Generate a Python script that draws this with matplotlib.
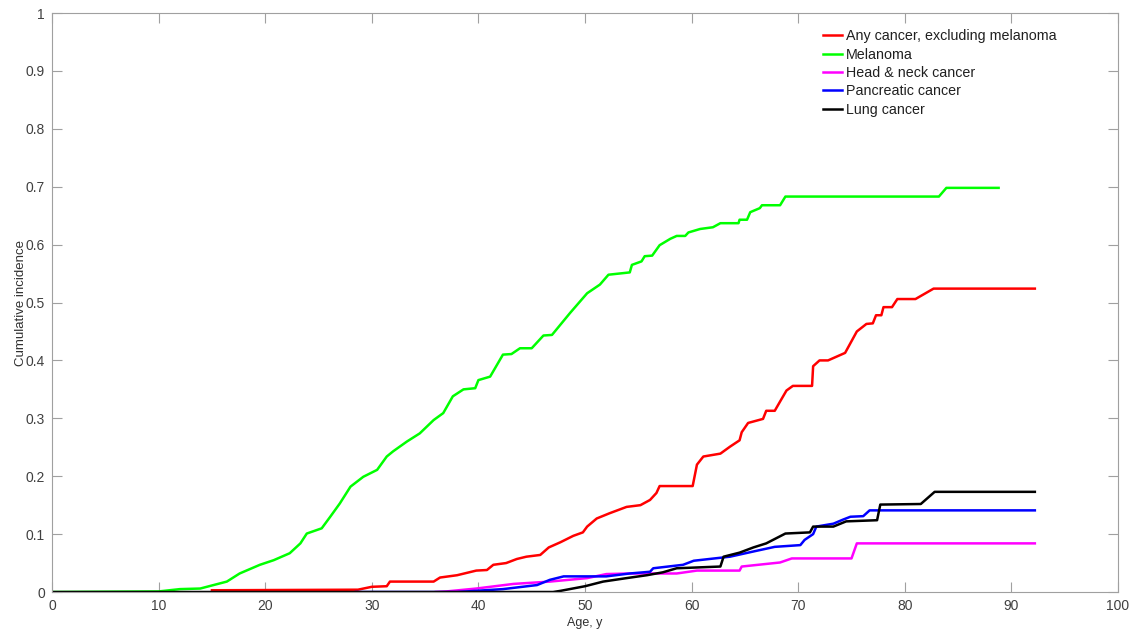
import matplotlib
matplotlib.use("Agg")
import matplotlib.pyplot as plt

plt.rcParams['font.family'] = ['Liberation Sans', 'DejaVu Sans']

labels = ["Any cancer, excluding melanoma", "Melanoma", "Head & neck cancer",
          "Pancreatic cancer", "Lung cancer"]
colors = ["#ff0000", "#00ff00", "#ff00ff", "#0000ff", "#000000"]

any_x = [15.0, 28.7, 30.0, 31.4, 31.7, 35.8, 36.4, 38.0, 39.8, 40.8, 41.4, 42.6, 43.6, 44.5,
         45.8, 46.6, 47.7, 48.9, 49.8, 50.2, 51.1, 52.3, 53.9, 55.2, 56.1, 56.7, 57.0, 60.1,
         60.5, 61.1, 62.7, 63.6, 64.5, 64.7, 65.3, 66.7, 67.0, 67.8, 68.3, 68.9, 69.5, 71.3,
         71.4, 72.0, 72.8, 74.4, 75.5, 76.4, 77.0, 77.3, 77.8, 78.0, 78.8, 79.3, 81.0, 82.7, 92.2]
any_y = [0.003, 0.004, 0.009, 0.010, 0.018, 0.018, 0.025, 0.029, 0.037, 0.038, 0.047, 0.050,
         0.057, 0.061, 0.064, 0.077, 0.086, 0.097, 0.103, 0.113, 0.127, 0.136, 0.147, 0.150,
         0.159, 0.171, 0.183, 0.183, 0.220, 0.234, 0.239, 0.251, 0.262, 0.276, 0.292, 0.299,
         0.313, 0.313, 0.329, 0.348, 0.356, 0.356, 0.390, 0.400, 0.400, 0.413, 0.450, 0.463,
         0.464, 0.478, 0.478, 0.492, 0.492, 0.506, 0.506, 0.524, 0.524]

mel_x = [0.0, 10.0, 12.0, 13.9, 16.4, 17.6, 19.5, 20.8, 22.3, 23.3, 23.9, 25.3, 26.1, 27.0,
         28.0, 29.2, 30.5, 31.4, 32.0, 33.3, 34.5, 35.8, 36.7, 37.6, 38.6, 39.7, 40.0, 41.1,
         42.3, 43.1, 43.9, 45.0, 46.1, 46.9, 48.6, 50.2, 51.4, 52.2, 54.2, 54.4, 55.3, 55.6,
         56.3, 57.0, 58.0, 58.6, 59.4, 59.7, 60.8, 62.0, 62.7, 64.4, 64.5, 65.2, 65.5, 66.4,
         66.6, 68.3, 68.8, 83.2, 83.9, 88.8]
mel_y = [0.0, 0.001, 0.005, 0.006, 0.018, 0.032, 0.047, 0.055, 0.067, 0.084, 0.101, 0.110,
         0.130, 0.153, 0.182, 0.199, 0.211, 0.234, 0.243, 0.260, 0.274, 0.297, 0.309, 0.338,
         0.350, 0.352, 0.366, 0.372, 0.410, 0.411, 0.421, 0.421, 0.443, 0.444, 0.482, 0.516,
         0.531, 0.548, 0.552, 0.565, 0.571, 0.580, 0.581, 0.599, 0.610, 0.615, 0.615, 0.621,
         0.627, 0.630, 0.637, 0.637, 0.643, 0.643, 0.656, 0.663, 0.668, 0.668, 0.683, 0.683,
         0.698, 0.698]

hn_x = [36.0, 37.0, 39.8, 43.3, 46.7, 50.2, 52.0, 54.2, 58.6, 60.5, 64.5, 64.7, 68.3, 69.4,
        75.0, 75.5, 92.2]
hn_y = [0.0, 0.001, 0.006, 0.014, 0.018, 0.024, 0.031, 0.032, 0.032, 0.037, 0.037, 0.044,
        0.051, 0.058, 0.058, 0.084, 0.084]

pan_x = [28.5, 38.0, 42.3, 45.5, 46.7, 48.0, 52.0, 54.2, 56.1, 56.4, 59.2, 60.2, 63.6, 65.8,
         67.8, 70.2, 70.6, 71.4, 71.7, 73.3, 74.2, 74.9, 76.1, 76.7, 92.2]
pan_y = [0.0, 0.0, 0.005, 0.012, 0.021, 0.027, 0.027, 0.032, 0.035, 0.041, 0.047, 0.054,
         0.061, 0.070, 0.078, 0.081, 0.090, 0.100, 0.113, 0.118, 0.125, 0.130, 0.131, 0.141,
         0.141]

lung_x = [0.0, 47.0, 47.7, 50.0, 51.7, 53.9, 55.8, 57.3, 58.6, 62.7, 63.0, 64.5, 65.8, 67.0,
          68.8, 71.1, 71.4, 73.3, 74.5, 77.4, 77.7, 81.5, 82.8, 92.2]
lung_y = [0.0, 0.0, 0.002, 0.010, 0.018, 0.024, 0.029, 0.034, 0.041, 0.044, 0.061, 0.068,
          0.077, 0.084, 0.101, 0.103, 0.113, 0.113, 0.122, 0.124, 0.151, 0.152, 0.173, 0.173]

series_x = [any_x, mel_x, hn_x, pan_x, lung_x]
series_y = [any_y, mel_y, hn_y, pan_y, lung_y]

x_ticks = list(range(0, 101, 10))
y_ticks = [0, 0.1, 0.2, 0.3, 0.4, 0.5, 0.6, 0.7, 0.8, 0.9, 1]
y_ticklabels = ["0", "0.1", "0.2", "0.3", "0.4", "0.5", "0.6", "0.7", "0.8", "0.9", "1"]

fig = plt.figure(figsize=(11.31, 6.35), dpi=100)
ax = fig.add_axes([0.046, 0.0677, 0.9425, 0.9118])

for xs, ys, c, lab in zip(series_x, series_y, colors, labels):
    ax.plot(xs, ys, color=c, lw=1.8, label=lab, solid_joinstyle='round')

ax.set_xlim(0, 100)
ax.set_ylim(0, 1)
ax.set_xticks(x_ticks)
ax.set_yticks(y_ticks)
ax.set_yticklabels(y_ticklabels)

axis_grey = "#a0a0a0"
for sp in ax.spines.values():
    sp.set_color(axis_grey)
    sp.set_linewidth(0.8)
ax.tick_params(direction='in', length=7, width=0.8, color=axis_grey,
               labelcolor="#404040", labelsize=10, top=True, right=True, pad=5)

ax.set_xlabel("Age, y", fontsize=9, color="#303030", labelpad=3)
ax.set_ylabel("Cumulative incidence", fontsize=9.5, color="#303030", labelpad=-1)

leg = ax.legend(loc='upper left', bbox_to_anchor=(0.718, 0.982), frameon=False,
                fontsize=10.3, handlelength=1.35, handletextpad=0.25, labelspacing=0.31,
                borderaxespad=0)
for t in leg.get_texts():
    t.set_color("#202020")

fig.savefig("out.png", dpi=100)
